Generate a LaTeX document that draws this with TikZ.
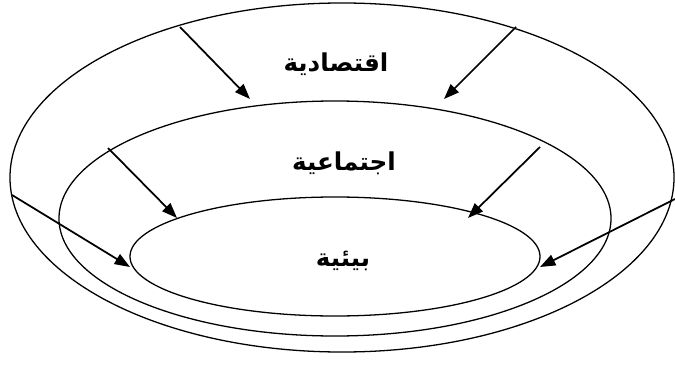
\documentclass[tikz,border=0pt]{standalone}
\usepackage{fontspec}
\usepackage{tikz}
\usetikzlibrary{arrows.meta,shapes.geometric}
\TeXXeTstate=1
\newfontfamily\arabicfont[Script=Arabic,BoldFont={DejaVu Sans Bold}]{DejaVu Sans}
\tikzset{
  ring/.style={draw,ellipse,line width=1.1pt,inner sep=0pt},
  push/.style={line width=1.5pt,-{Triangle[length=4.6mm,width=3.4mm]}},
  lbl/.style={font=\arabicfont\bfseries\fontsize{21}{25}\selectfont}
}
\newcommand{\ar}[1]{\beginR #1\endR}

\begin{document}
\begin{tikzpicture}[x=0.03cm,y=-0.03cm]
\useasboundingbox (0,0) rectangle (675,367);
\node[ring,minimum width=19.92cm,minimum height=10.47cm] (outer) at (342,177.5) {};
\node[ring,minimum width=16.56cm,minimum height=7.05cm] (middle) at (335,218.5) {};
\node[ring,minimum width=12.3cm,minimum height=3.57cm] (inner) at (335,256.5) {};
\node[lbl] (eco) at (336,64) {\ar{اقتصادية}};
\node[lbl] (soc) at (344,163) {\ar{اجتماعية}};
\node[lbl] (env) at (343,261) {\ar{بيئية}};
\coordinate (s1) at (180,27); \coordinate (t1) at (250,99);
\coordinate (s2) at (516,27); \coordinate (t2) at (444,99);
\coordinate (s3) at (108,148); \coordinate (t3) at (177,218);
\coordinate (s4) at (540,147); \coordinate (t4) at (468,218);
\coordinate (s5) at (12,195); \coordinate (t5) at (130,267);
\coordinate (s6) at (675,199); \coordinate (t6) at (540,267);
\foreach \i in {1,...,6} \draw[push] (s\i) -- (t\i);
\end{tikzpicture}
\end{document}
